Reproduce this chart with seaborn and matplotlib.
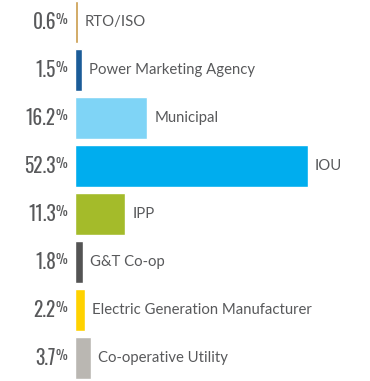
""" Horizontal bar chart of respondent shares by organization type. """

import matplotlib

matplotlib.use("Agg")
import matplotlib.pyplot as plt
import pandas as pd
import seaborn as sns

categories = [
    "RTO/ISO",
    "Power Marketing Agency",
    "Municipal",
    "IOU",
    "IPP",
    "G&T Co-op",
    "Electric Generation Manufacturer",
    "Co-operative Utility",
]
shares = [0.6, 1.5, 16.2, 52.3, 11.3, 1.8, 2.2, 3.7]
colors = [
    "#C99A48",
    "#1B5C98",
    "#7FD4F6",
    "#00ADEE",
    "#A4BB2A",
    "#545454",
    "#FFD200",
    "#BAB7B2",
]

TEXT_COLOR = "#58595B"
NUM_FONT = ["Oswald", "DejaVu Sans"]
LABEL_FONT = ["Lato", "DejaVu Sans"]

df = pd.DataFrame({"category": categories, "share": shares})

sns.set_style("white")

fig = plt.figure(figsize=(3.70, 3.81), dpi=100)
ax = fig.add_axes([75 / 370, 0, 1 - 75 / 370, 1])

sns.barplot(
    data=df,
    x="share",
    y="category",
    hue="category",
    palette=colors,
    legend=False,
    width=0.875,
    saturation=1,
    ax=ax,
)

ax.set_xlim(0, 66.2)
ax.set_ylim(7.48, -0.46)
ax.axis("off")

for i, (cat, val) in enumerate(zip(categories, shares)):
    # percentage value left of the bars
    ax.annotate(
        f"{val:.1f}",
        xy=(0, i),
        xytext=(-19, 0),
        textcoords="offset pixels",
        ha="right",
        va="center",
        fontsize=14,
        fontweight=300,
        family=NUM_FONT,
        color=TEXT_COLOR,
    )
    ax.annotate(
        "%",
        xy=(0, i),
        xytext=(-19, 9),
        textcoords="offset pixels",
        ha="left",
        va="top",
        fontsize=9.5,
        fontweight=300,
        family=NUM_FONT,
        color=TEXT_COLOR,
    )
    # category label right of the bar
    ax.annotate(
        cat,
        xy=(val, i),
        xytext=(7, 0),
        textcoords="offset pixels",
        ha="left",
        va="center",
        fontsize=10.7,
        family=LABEL_FONT,
        color=TEXT_COLOR,
    )

plt.savefig("out.png", dpi=100)
